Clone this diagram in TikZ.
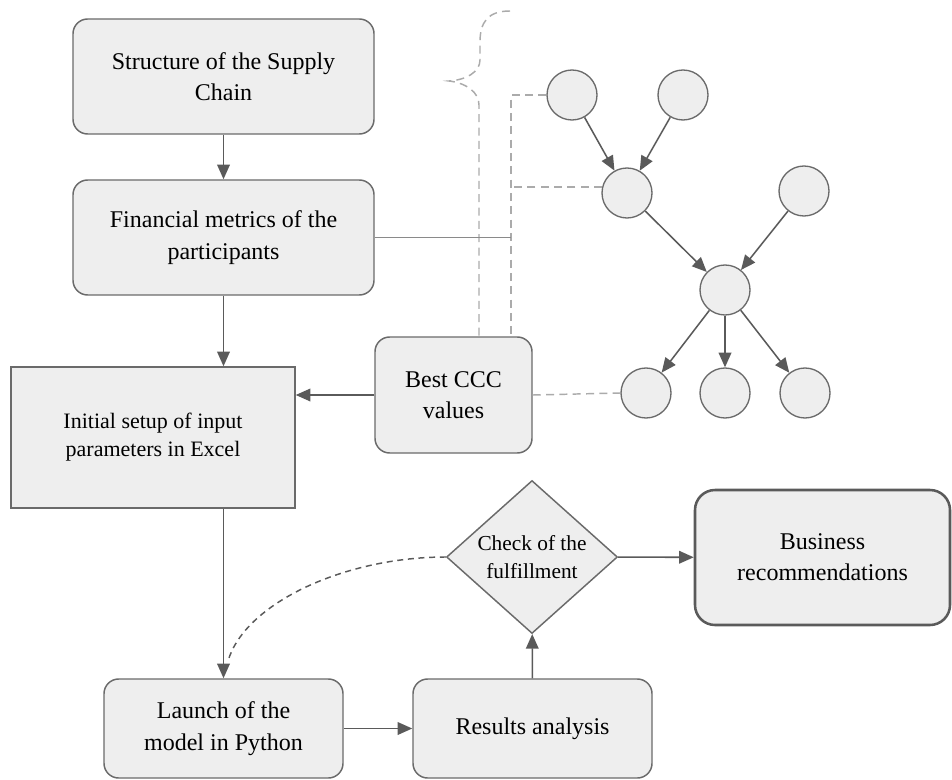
\documentclass[tikz,border=0pt]{standalone}
\usepackage{fontspec}
\setmainfont{Liberation Serif}
\usetikzlibrary{shapes.geometric,arrows.meta}
\definecolor{boxfill}{HTML}{EEEEEE}
\definecolor{boxline}{HTML}{6A6A6A}
\definecolor{arrowc}{HTML}{5A5A5A}
\definecolor{dashc}{HTML}{ABABAB}
\definecolor{linkc}{HTML}{8A8A8A}
\begin{document}
\begin{tikzpicture}[x=0.75pt,y=-0.75pt,
  box/.style={draw=boxline, fill=boxfill, line width=1.1pt, rounded corners=11pt,
    align=center, inner sep=0pt, font=\fontsize{18}{23.5}\selectfont},
  sharpbox/.style={box, rounded corners=0pt, font=\fontsize{16.5}{21}\selectfont},
  finalbox/.style={box, draw=arrowc, line width=1.9pt, rounded corners=15pt},
  decision/.style={diamond, draw=boxline, fill=boxfill, line width=1.1pt, inner sep=0pt,
    shape aspect=1.118, align=center, font=\fontsize{16}{20.5}\selectfont},
  agent/.style={circle, draw=boxline, fill=boxfill, line width=1pt, minimum size=37.5pt, inner sep=0pt},
  arr/.style={draw=arrowc, line width=1.15pt, -{Triangle[length=11pt,width=9.5pt]}},
  dsh/.style={draw=dashc, line width=1.1pt, dash pattern=on 6pt off 4pt},
  loopdsh/.style={draw=arrowc, line width=1.1pt, dash pattern=on 4.5pt off 3.5pt},
  link/.style={draw=linkc, line width=1pt}]
\useasboundingbox (0,0) rectangle (952,780);

% flowchart blocks
\node[box, minimum width=225.75pt, minimum height=86.25pt] (s1) at (223.5,76.5) {Structure of the Supply\\Chain};
\node[box, minimum width=225.75pt, minimum height=86.25pt] (s2) at (223.5,237.5) {Financial metrics of the\\participants};
\node[sharpbox, minimum width=213pt, minimum height=105.75pt] (init) at (153,437.5) {Initial setup of input\\parameters in Excel};
\node[box, minimum width=117.75pt, minimum height=87pt] (ccc) at (453.5,395) {Best CCC\\values};
\node[decision, minimum width=128.25pt, minimum height=114.75pt] (chk) at (532,557) {Check of the\\fulfillment};
\node[finalbox, minimum width=191.25pt, minimum height=101.25pt] (biz) at (822.5,557.5) {Business\\recommendations};
\node[box, minimum width=179.25pt, minimum height=74.25pt] (launch) at (223.5,728.5) {Launch of the\\model in Python};
\node[box, minimum width=179.25pt, minimum height=74.25pt] (res) at (532.5,728.5) {Results analysis};

% supply chain network
\node[agent] (c1) at (572,95) {};
\node[agent] (c2) at (683,95) {};
\node[agent] (c3) at (627,193) {};
\node[agent] (c4) at (804,191) {};
\node[agent] (c5) at (725,290) {};
\node[agent] (c6) at (646,393) {};
\node[agent] (c7) at (725,393) {};
\node[agent] (c8) at (805,393) {};

\draw[arr] (c1) -- (c3);
\draw[arr] (c2) -- (c3);
\draw[arr] (c3) -- (c5);
\draw[arr] (c4) -- (c5);
\draw[arr] (c5) -- (c6);
\draw[arr] (c5) -- (c7);
\draw[arr] (c5) -- (c8);

% main flow
\draw[arr] (s1) -- (s2);
\draw[arr] (s2.south) -- (s2.south |- init.north);
\draw[arr] (ccc.west) -- (ccc.west -| init.east);
\draw[arr] (launch.north |- init.south) -- (launch.north);
\draw[arr] (launch) -- (res);
\draw[arr] (res) -- (chk);
\draw[arr] (chk) -- (biz);

% feedback loop
\coordinate (loopend) at (228,661);
\draw[loopdsh] (chk.west) .. controls (345,557) and (245,603) .. (loopend);

% links between the network and the CCC block
\coordinate (cccR) at (511,338);
\coordinate (cccL) at (479,338);
\coordinate (bracetop) at (510,11);
\coordinate (bracetip) at (449,81);
\draw[dsh] (bracetop) .. controls (488,11) and (480,22) .. (480,42) -- (480,60)
  .. controls (480,72) and (466,80) .. (bracetip)
  .. controls (466,83) and (479,92) .. (479,105) -- (cccL);
\draw[dsh] (c1.west) -| (cccR);
\draw[dsh] (c3.167) -- (c3.167 -| cccR);
\draw[dsh] (ccc.east) -- (c6.west);
\draw[link] (s2.east) -- (s2.east -| cccR);
\end{tikzpicture}
\end{document}
